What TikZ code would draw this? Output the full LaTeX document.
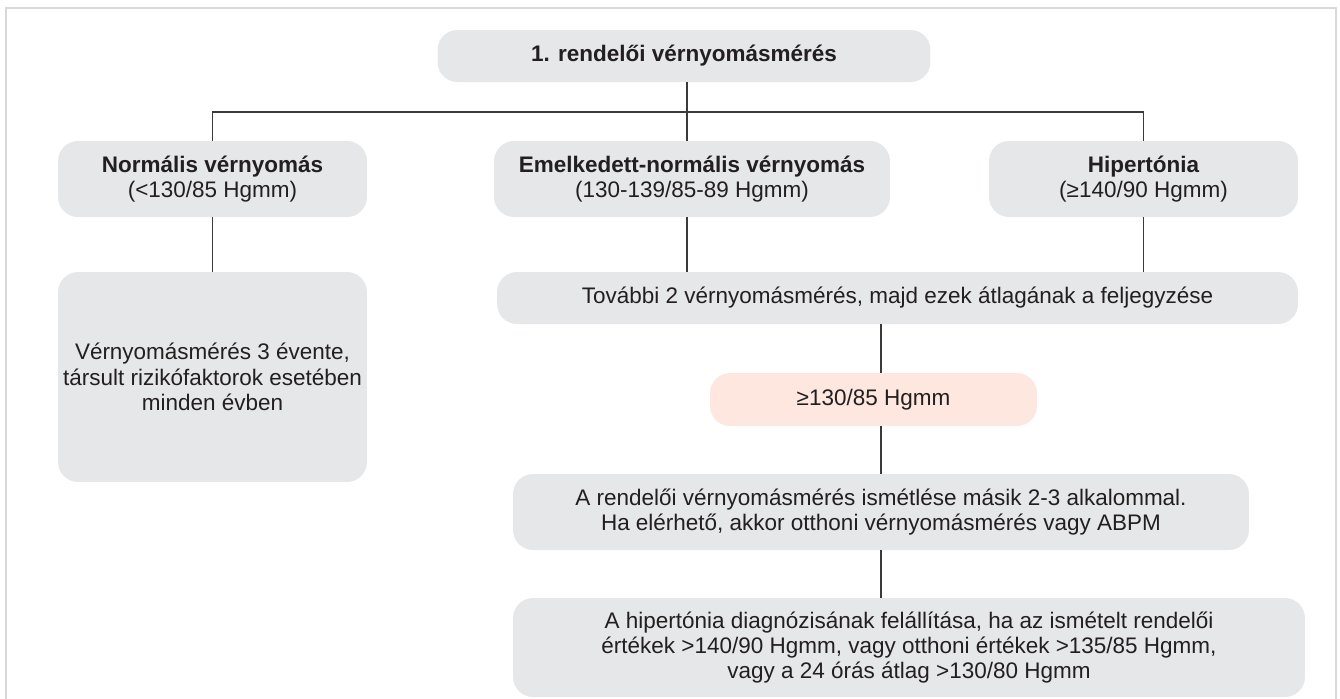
\documentclass[tikz,border=0pt]{standalone}
\usepackage{fontspec}
\setmainfont{Liberation Sans}
\usetikzlibrary{positioning}
\definecolor{box area}{HTML}{E6E7E8}
\definecolor{warm area}{HTML}{FDE7DE}
\definecolor{ink}{HTML}{231F20}
\definecolor{link edge}{HTML}{3A3A3A}
\definecolor{frame edge}{HTML}{D9D9D9}
\tikzset{
  box/.style={fill=box area, rounded corners=0.4cm, text=ink, align=center,
    inner sep=0pt, font=\fontsize{12.8}{14.4}\selectfont},
  hotbox/.style={box, fill=warm area},
  link/.style={draw=link edge, line width=0.6pt},
  frame/.style={draw=frame edge, line width=0.8pt}
}
\begin{document}
\begin{tikzpicture}[x=0.02cm, y=-0.02cm]
    \useasboundingbox (0,0) rectangle (1340,698);
    \draw[frame] (6,710) -- (6,8) -- (1336,8) -- (1336,710);
    \coordinate (mid) at (687,112);
    \coordinate (axis) at (881,0);
    \node[box, minimum width=9.86cm, minimum height=1.04cm] (top) at (684,56)
      {\textbf{1. rendelői vérnyomásmérés}};
    \node[box, minimum width=6.18cm, minimum height=1.52cm] (norm) at (212.5,179)
      {\textbf{Normális vérnyomás}\\(<130/85 Hgmm)};
    \node[box, minimum width=7.92cm, minimum height=1.52cm] (emel) at (692,179)
      {\textbf{Emelkedett-normális vérnyomás}\\(130-139/85-89 Hgmm)};
    \node[box, minimum width=6.18cm, minimum height=1.52cm] (hyp) at (1143.5,179)
      {\textbf{Hipertónia}\\(≥140/90 Hgmm)};
    \node[box, minimum width=6.18cm, minimum height=4.2cm] (freq) at (212.5,377)
      {Vérnyomásmérés 3 évente,\\társult rizikófaktorok esetében\\minden évben};
    \node[box, minimum width=16.02cm, minimum height=1.04cm] (tov) at (897.5,298)
      {További 2 vérnyomásmérés, majd ezek átlagának a feljegyzése};
    \node[hotbox, minimum width=6.54cm, minimum height=1.06cm] (warn) at (873.5,399.5)
      {≥130/85 Hgmm};
    \node[box, minimum width=14.72cm, minimum height=1.52cm] (rep) at (881,512)
      {A rendelői vérnyomásmérés ismétlése másik 2-3 alkalommal.\\
       Ha elérhető, akkor otthoni vérnyomásmérés vagy ABPM};
    \node[box, minimum width=15.84cm, minimum height=1.98cm] (diag) at (909,647.5)
      {A hipertónia diagnózisának felállítása, ha az ismételt rendelői\\
       értékek >140/90 Hgmm, vagy otthoni értékek >135/85 Hgmm,\\
       vagy a 24 órás átlag >130/80 Hgmm};
    \draw[link] (top.south -| mid) -- (emel.north -| mid);
    \draw[link] (norm.north) |- (mid) -| (hyp.north);
    \draw[link] (norm.south) -- (freq.north);
    \draw[link] (emel.south -| mid) -- (tov.north -| mid);
    \draw[link] (hyp.south) -- (hyp.south |- tov.north);
    \draw[link] (tov.south -| axis) -- (warn.north -| axis);
    \draw[link] (warn.south -| axis) -- (rep.north -| axis);
    \draw[link] (rep.south -| axis) -- (diag.north -| axis);
\end{tikzpicture}
\end{document}
